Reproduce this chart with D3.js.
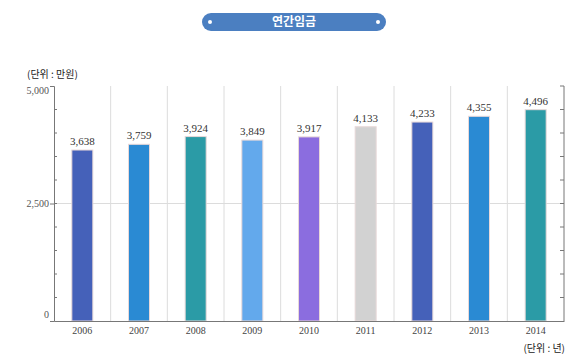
<!DOCTYPE html>
<html>
<head>
<meta charset="utf-8">
<script src="https://cdn.jsdelivr.net/npm/d3@7"></script>
<style>
  body { margin: 0; background: #fff; }
  svg { display: block; }
</style>
</head>
<body>
<div id="chart-area"></div>
<script>
// data
const years = ['2006', '2007', '2008', '2009', '2010', '2011', '2012', '2013', '2014'];
const wages = [3638, 3759, 3924, 3849, 3917, 4133, 4233, 4355, 4496];
const barColours = ['#4561b9', '#2a8ad3', '#2b9ba6', '#63a9ec', '#8b6ddf', '#d2d2d2', '#4561b9', '#2a8ad3', '#2b9ba6'];
const yTicks = [0, 2500, 5000];

const W = 580, H = 360;
const margin = { top: 86, right: 16, bottom: 39, left: 54 };
const width = W - margin.left - margin.right;
const height = H - margin.top - margin.bottom;

const svg = d3.select('#chart-area').append('svg')
  .attr('width', W)
  .attr('height', H);

// title pill
const title = svg.append('g').attr('transform', 'translate(294, 22)');
title.append('rect')
  .attr('x', -92).attr('y', -9)
  .attr('width', 184).attr('height', 18)
  .attr('rx', 9)
  .attr('fill', '#4b7fc1');
title.append('circle').attr('cx', -84).attr('r', 2).attr('fill', '#fff');
title.append('circle').attr('cx', 84).attr('r', 2).attr('fill', '#fff');
title.append('text')
  .attr('text-anchor', 'middle')
  .attr('dy', '0.36em')
  .attr('fill', '#fff')
  .attr('font-family', 'Noto Sans CJK KR')
  .attr('font-size', '12px')
  .attr('font-weight', 'bold')
  .text('연간임금');

// unit labels
svg.append('text')
  .attr('x', 27).attr('y', 78)
  .attr('font-family', 'Noto Sans CJK KR')
  .attr('font-size', '10px')
  .attr('fill', '#222')
  .text('(단위 : 만원)');

svg.append('text')
  .attr('x', 565).attr('y', 352)
  .attr('text-anchor', 'end')
  .attr('font-family', 'Noto Sans CJK KR')
  .attr('font-size', '10px')
  .attr('fill', '#222')
  .text('(단위 : 년)');

const g = svg.append('g')
  .attr('transform', `translate(${margin.left}, ${margin.top})`);

const x = d3.scaleBand()
  .domain(years)
  .range([0, width]);

const y = d3.scaleLinear()
  .domain([0, 5000])
  .range([height, 0]);

// vertical grid between categories
g.selectAll('.vgrid')
  .data(years.slice(1))
  .enter().append('line')
  .attr('class', 'vgrid')
  .attr('x1', d => x(d)).attr('x2', d => x(d))
  .attr('y1', 0).attr('y2', height)
  .attr('stroke', '#dcdcdc');

// horizontal grid at 2,500
g.append('line')
  .attr('x1', 0).attr('x2', width)
  .attr('y1', y(2500)).attr('y2', y(2500))
  .attr('stroke', '#dcdcdc');

// bars
const barW = 21;
g.selectAll('rect.bar')
  .data(wages)
  .enter().append('rect')
  .attr('class', 'bar')
  .attr('x', (d, i) => x(years[i]) + x.bandwidth() / 2 - barW / 2)
  .attr('y', d => y(d))
  .attr('width', barW)
  .attr('height', d => height - y(d))
  .attr('fill', (d, i) => barColours[i])
  .attr('stroke', '#e8d8d8')
  .attr('stroke-width', 1);

// value labels
g.selectAll('text.val')
  .data(wages)
  .enter().append('text')
  .attr('class', 'val')
  .attr('x', (d, i) => x(years[i]) + x.bandwidth() / 2)
  .attr('y', d => y(d) - 5)
  .attr('text-anchor', 'middle')
  .attr('font-family', 'Liberation Serif')
  .attr('font-size', '11px')
  .attr('fill', '#333')
  .text(d3.format(','));

// minor ticks every 500 on both sides
const minor = d3.range(500, 5000, 500);
g.selectAll('.ltick')
  .data(minor)
  .enter().append('line')
  .attr('x1', 0).attr('x2', 3)
  .attr('y1', d => y(d)).attr('y2', d => y(d))
  .attr('stroke', '#777');
g.selectAll('.rtick')
  .data(minor.concat([5000]))
  .enter().append('line')
  .attr('x1', width).attr('x2', width - 4)
  .attr('y1', d => y(d)).attr('y2', d => y(d))
  .attr('stroke', '#777');

// y axis
const yAxis = g.append('g')
  .call(d3.axisLeft(y).tickValues(yTicks).tickFormat(d3.format(',')).tickSize(4));
yAxis.select('.domain').attr('stroke', '#777');
yAxis.selectAll('.tick line').attr('stroke', '#777');
yAxis.selectAll('text')
  .attr('font-family', 'Liberation Serif')
  .attr('font-size', '10px')
  .attr('fill', '#555')
  .attr('x', -5)
  .attr('dy', (d, i) => d === 0 ? '-0.4em' : (d === 5000 ? '0.7em' : '0.32em'));

// right frame
g.append('line')
  .attr('x1', width).attr('x2', width)
  .attr('y1', 0).attr('y2', height)
  .attr('stroke', '#777');

// x axis
const xAxis = g.append('g')
  .attr('transform', `translate(0, ${height})`)
  .call(d3.axisBottom(x).tickSize(0).tickPadding(6));
xAxis.select('.domain').attr('stroke', '#777');
xAxis.selectAll('text')
  .attr('font-family', 'Liberation Serif')
  .attr('font-size', '10px')
  .attr('fill', '#444');
</script>
</body>
</html>
